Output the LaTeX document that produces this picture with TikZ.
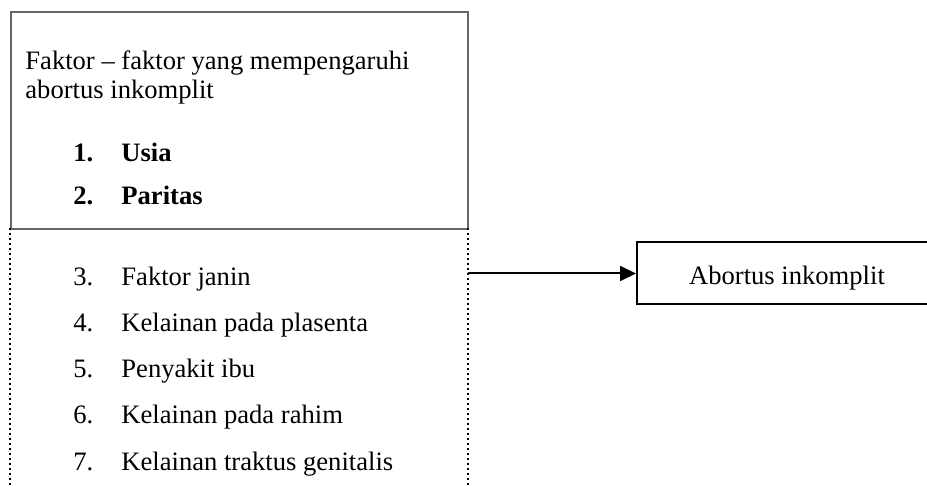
\documentclass[tikz,border=0pt]{standalone}
\usepackage{fontspec}
\setmainfont{Liberation Serif}
\usetikzlibrary{arrows.meta}
\tikzset{
  txt/.style={anchor=base west, inner sep=0pt, font=\fontsize{13.3}{15}\selectfont},
  btxt/.style={txt, font=\fontsize{13.3}{15}\selectfont\bfseries},
  solidbox/.style={draw=black!60, line width=0.9pt, inner sep=0pt, anchor=north west},
  dotline/.style={line width=1.1pt, dash pattern=on 0.8pt off 1.7pt},
  resultbox/.style={draw=black, line width=1pt, inner sep=0pt, font=\fontsize{13.3}{15}\selectfont},
  arr/.style={line width=1pt, -{Triangle[length=8pt,width=7.5pt]}}
}
\begin{document}
\begin{tikzpicture}[x=0.5pt,y=-0.5pt]
\useasboundingbox (0,0) rectangle (927,486);
\clip (0,0) rectangle (927,486);
% top solid box
\node[solidbox, minimum width=228.5pt, minimum height=108.3pt] (top) at (10,11.5) {};
% lower dotted box (sides only)
\node[inner sep=0pt, anchor=north west, minimum width=228.5pt, minimum height=132pt] (bot) at (10,228) {};
\draw[dotline] (bot.north west) -- (bot.south west);
\draw[dotline] (bot.north east) -- (bot.south east);
% right box
\node[resultbox, minimum width=150pt, minimum height=31pt, text depth=0pt] (rb) at (787,273.5) {\raisebox{-1.5pt}{Abortus inkomplit}};
% arrow
\draw[arr] (bot.east |- rb.west) -- (rb.west);
% texts in top box
\node[txt] (t1) at (25,70) {Faktor – faktor yang mempengaruhi};
\node[txt] (t2) at (25,99) {abortus inkomplit};
\node[btxt] (n1) at (73,162) {1.};
\node[btxt] (i1) at (121,162) {Usia};
\node[btxt] (n2) at (73,205) {2.};
\node[btxt] (i2) at (121,205) {Paritas};
% texts in lower box
\node[txt] (n3) at (73,286) {3.};
\node[txt] (i3) at (121,286) {Faktor janin};
\node[txt] (n4) at (73,332) {4.};
\node[txt] (i4) at (121,332) {Kelainan pada plasenta};
\node[txt] (n5) at (73,378) {5.};
\node[txt] (i5) at (121,378) {Penyakit ibu};
\node[txt] (n6) at (73,423) {6.};
\node[txt] (i6) at (121,423) {Kelainan pada rahim};
\node[txt] (n7) at (73,470) {7.};
\node[txt] (i7) at (121,470) {Kelainan traktus genitalis};
\end{tikzpicture}
\end{document}
